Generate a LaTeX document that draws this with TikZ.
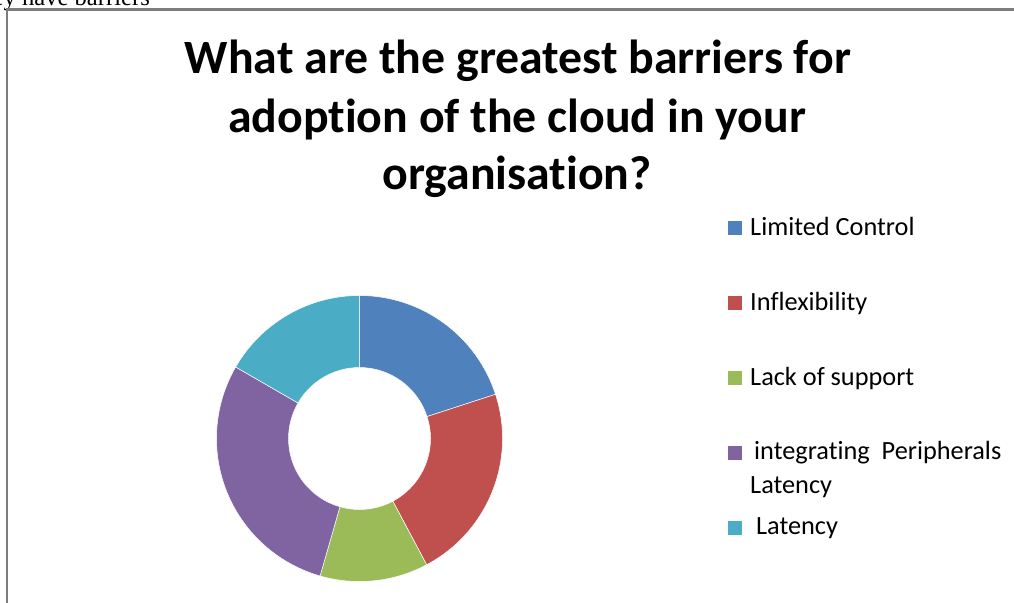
\documentclass[tikz,border=0pt]{standalone}
\usepackage{fontspec}
\setmainfont{Carlito}[Ligatures={NoCommon}]
\newfontfamily\docserif{Liberation Serif}
\definecolor{cblue}{HTML}{4F81BD}
\definecolor{cred}{HTML}{C0504D}
\definecolor{cgreen}{HTML}{9BBB59}
\definecolor{cpurple}{HTML}{8064A2}
\definecolor{ccyan}{HTML}{4BACC6}
\definecolor{framegray}{RGB}{125,125,125}
\begin{document}
\begin{tikzpicture}[x=1pt,y=-1pt,
  legsq/.style={minimum size=14pt, inner sep=0pt, draw=none, fill=#1},
  legtxt/.style={anchor=base west, inner sep=0pt, font=\fontsize{26.3}{31}\selectfont},
  ttl/.style={anchor=base, inner sep=0pt, font=\fontsize{47.8}{58}\selectfont\bfseries},
  slice/.style={fill=#1, draw=white, line width=0.5pt, line join=round}]
\useasboundingbox (0,0) rectangle (1014,602);
\clip (0,0) rectangle (1014,602);
\fill[white] (0,0) rectangle (1014,602);
% cut-off text of the page above
\node[anchor=base east, inner sep=0pt, font=\docserif\fontsize{24.6}{28}\selectfont] (pagetxt) at (150,5.5) {they have barriers};
% frame
\draw[framegray, line width=2.4pt] (7,610) -- (7,9.7) -- (1020,9.7);
% title
\node[ttl] (title1) at (518,74) {What are the greatest barriers for};
\node[ttl] (title2) at (517,132) {adoption of the cloud in your};
\node[ttl] (title3) at (517,189) {organisation?};
% donut
\begin{scope}[shift={(359.5,438.5)}, yscale=-1]
  \def\ro{143}\def\ri{71}
  \path[slice=cblue] (90:\ro) arc[start angle=90, end angle=18, radius=\ro] -- (18:\ri) arc[start angle=18, end angle=90, radius=\ri] -- cycle;
  \path[slice=cred] (18:\ro) arc[start angle=18, end angle=-62, radius=\ro] -- (-62:\ri) arc[start angle=-62, end angle=18, radius=\ri] -- cycle;
  \path[slice=cgreen] (-62:\ro) arc[start angle=-62, end angle=-106, radius=\ro] -- (-106:\ri) arc[start angle=-106, end angle=-62, radius=\ri] -- cycle;
  \path[slice=cpurple] (-106:\ro) arc[start angle=-106, end angle=-210, radius=\ro] -- (-210:\ri) arc[start angle=-210, end angle=-106, radius=\ri] -- cycle;
  \path[slice=ccyan] (150:\ro) arc[start angle=150, end angle=90, radius=\ro] -- (90:\ri) arc[start angle=90, end angle=150, radius=\ri] -- cycle;
\end{scope}
% legend
\node[legsq=cblue] (sq1) at (735,228) {};
\node[legsq=cred] (sq2) at (735,303) {};
\node[legsq=cgreen] (sq3) at (735,378) {};
\node[legsq=cpurple] (sq4) at (735,452.5) {};
\node[legsq=ccyan] (sq5) at (735,527.5) {};
\node[legtxt] (lt1) at (750,235) {Limited Control};
\node[legtxt] (lt2) at (750,310) {Inflexibility};
\node[legtxt] (lt3) at (750,385) {Lack of support};
\node[legtxt] (lt4) at (748,459) {\ integrating\ \ Peripherals};
\node[legtxt] (lt4b) at (750,493) {Latency};
\node[legtxt] (lt5) at (750,534) {\ Latency};
\end{tikzpicture}
\end{document}
